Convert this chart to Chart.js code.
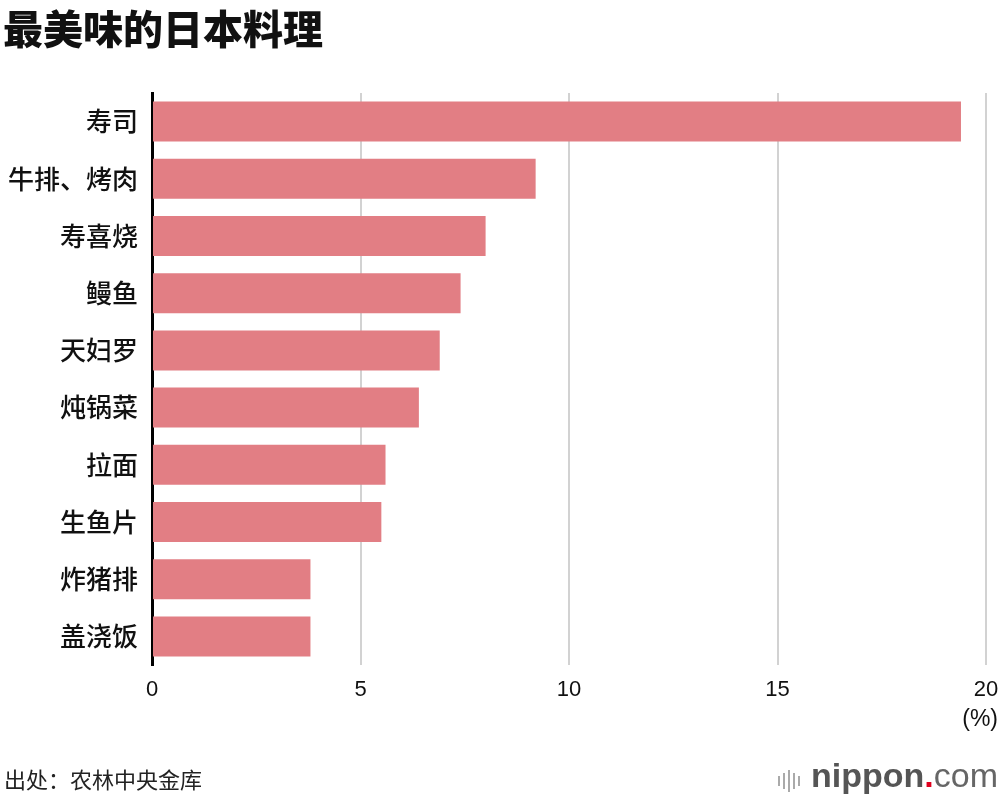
<!DOCTYPE html>
<html>
<head>
<meta charset="utf-8">
<script src="https://cdn.jsdelivr.net/npm/chart.js@4"></script>
<style>
  html, body { margin: 0; padding: 0; background: #fff; }
  #wrap { position: relative; width: 1000px; height: 796px; overflow: hidden; }
  #title { position: absolute; left: 3px; top: -2px; font: 900 40px "Noto Sans CJK SC", sans-serif; color: #111; letter-spacing: 0px; }
  #unit { position: absolute; right: 2px; top: 705px; font: 23px "Liberation Sans", Arial, sans-serif; color: #111; }
  #source { position: absolute; left: 4px; top: 762px; font: 22px "Noto Sans CJK SC", sans-serif; color: #222; }
  #logo { position: absolute; right: 2px; top: 756px; font: bold 34px "Liberation Sans", Arial, sans-serif; color: #555; white-space: nowrap; }
  #logo .bars { display: inline-block; vertical-align: middle; margin-right: 8px; }
  #logo .bars i { display: inline-block; width: 2px; background: #aaa; margin-right: 3px; vertical-align: middle; }
  #logo .dot { color: #e0001e; }
  #logo .com { font-weight: normal; color: #666; }
  canvas { position: absolute; left: 0; top: 0; }
</style>
</head>
<body>
<div id="wrap">
  <canvas id="chart" width="1000" height="796"></canvas>
  <div id="title">最美味的日本料理</div>
  <div id="unit">(%)</div>
  <div id="source">出处：农林中央金库</div>
  <div id="logo"><span class="bars"><i style="height:10px"></i><i style="height:16px"></i><i style="height:22px"></i><i style="height:16px"></i><i style="height:10px"></i></span>nippon<span class="dot">.</span><span class="com">com</span></div>
</div>
<script>
const categories = ["寿司", "牛排、烤肉", "寿喜烧", "鳗鱼", "天妇罗", "炖锅菜", "拉面", "生鱼片", "炸猪排", "盖浇饭"];
const shares = [19.4, 9.2, 8.0, 7.4, 6.9, 6.4, 5.6, 5.5, 3.8, 3.8];
const xTicks = [0, 5, 10, 15, 20];

new Chart(document.getElementById("chart"), {
  type: "bar",
  data: {
    labels: categories,
    datasets: [{
      data: shares,
      backgroundColor: "#e27e84",
      borderWidth: 0,
      barPercentage: 0.7,
      categoryPercentage: 1.0,
    }],
  },
  options: {
    indexAxis: "y",
    responsive: false,
    animation: false,
    layout: { padding: { top: 93, bottom: 0, left: 0, right: 14 } },
    plugins: { legend: { display: false }, tooltip: { enabled: false } },
    scales: {
      x: {
        min: 0,
        max: 20,
        afterBuildTicks: (s) => { s.ticks = xTicks.map((v) => ({ value: v })); },
        afterFit: (s) => {
          s.height = 131;
          s.paddingLeft = 0;
          s.paddingRight = 0;
        },
        grid: { color: "#d2d2d2", lineWidth: 2, drawTicks: false },
        border: { display: false },
        ticks: {
          padding: 12,
          color: "#111",
          font: { family: "Liberation Sans, Arial, sans-serif", size: 22 },
        },
      },
      y: {
        afterFit: (s) => { s.width = 152; },
        grid: { display: false, drawTicks: false },
        border: { color: "#000", width: 3 },
        ticks: {
          padding: 14,
          color: "#111",
          font: { family: "Noto Sans CJK SC, sans-serif", size: 26, weight: 500 },
        },
      },
    },
  },
});
</script>
</body>
</html>
